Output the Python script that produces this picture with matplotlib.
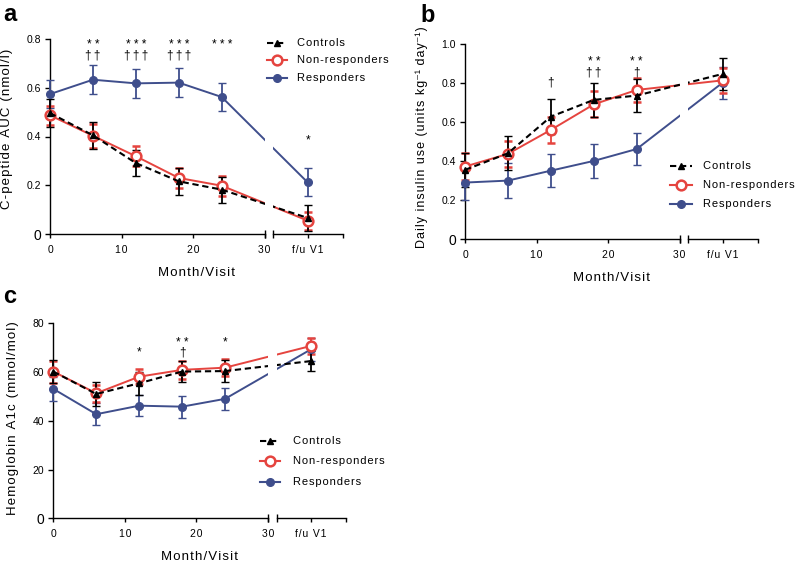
import matplotlib.pyplot as plt
from matplotlib.lines import Line2D

plt.rcParams['font.family'] = ['Liberation Sans', 'DejaVu Sans']

BLUE = '#3F4E8C'
RED = '#E5443F'

# visit months, f/u V1 is drawn after the axis break
visits = [0, 6, 12, 18, 24]
FU = 36
groups = ['Controls', 'Non-responders', 'Responders']

# a: C-peptide AUC (nmol/l), mean and SEM
cpep_ctrl = [0.496, 0.405, 0.291, 0.216, 0.182, 0.066]
cpep_ctrl_err = [0.056, 0.056, 0.054, 0.054, 0.053, 0.053]
cpep_nonr = [0.487, 0.403, 0.319, 0.230, 0.198, 0.055]
cpep_nonr_err = [0.040, 0.050, 0.040, 0.042, 0.041, 0.037]
cpep_resp = [0.574, 0.633, 0.618, 0.621, 0.562, 0.212]
cpep_resp_err = [0.059, 0.059, 0.058, 0.058, 0.059, 0.058]

# b: daily insulin use (units/kg/day)
ins_ctrl = [0.356, 0.441, 0.629, 0.715, 0.737, 0.848]
ins_ctrl_err = [0.087, 0.087, 0.088, 0.087, 0.085, 0.080]
ins_nonr = [0.373, 0.438, 0.561, 0.692, 0.766, 0.815]
ins_nonr_err = [0.068, 0.066, 0.067, 0.066, 0.063, 0.063]
ins_resp = [0.291, 0.301, 0.352, 0.402, 0.463, 0.803]
ins_resp_err = [0.089, 0.088, 0.086, 0.086, 0.084, 0.083]

# c: HbA1c (mmol/mol)
hba_ctrl = [60.2, 51.0, 55.4, 60.2, 60.4, 64.5]
hba_ctrl_err = [4.6, 5.0, 4.8, 4.4, 4.6, 4.2]
hba_nonr = [60.2, 51.3, 58.1, 60.9, 61.8, 70.7]
hba_nonr_err = [4.5, 3.4, 3.0, 3.6, 3.5, 3.2]
hba_resp = [53.1, 42.7, 46.2, 45.8, 49.0, 69.3]
hba_resp_err = [4.8, 4.6, 4.3, 4.5, 4.5, 4.8]

# significance marks: (x, y of last row baseline, stars, daggers)
cpep_marks = [(6, 0.722, '**', '††'), (12, 0.722, '***', '†††'), (18, 0.722, '***', '†††'),
              (24, 0.765, '***', ''), (FU, 0.37, '*', '')]
ins_marks = [(12, 0.79, '', '†'), (18, 0.842, '**', '††'), (24, 0.842, '**', '†')]
hba_marks = [(12, 66.8, '*', ''), (18, 66.8, '**', '†'), (24, 70.8, '*', '')]


def sp(s):
    return '\u200a'.join(s)


fig = plt.figure(figsize=(8, 5.66), dpi=100)
W, H = 800, 566


def fig_xy(px, py):
    return px / W, 1 - py / H


def draw_panel(rect, ctrl, ctrl_err, nonr, nonr_err, resp, resp_err,
               yticks, ylabels, ylabel, ylab_pos, marks, ylab_size=9.5):
    ax = fig.add_axes(rect)
    x = visits + [FU]
    for yv, ye, col, mk, mfc, ls, lw, ms in [
            (resp, resp_err, BLUE, 'o', BLUE, '-', 1.4, 5.5),
            (nonr, nonr_err, RED, 'o', 'white', '-', 1.4, 7),
            (ctrl, ctrl_err, 'black', '^', 'black', '--', 1.5, 4.5)]:
        eb = ax.errorbar(x, yv, yerr=ye, color=col, marker=mk, ms=ms, mfc=mfc,
                         mec=col, mew=1.8 if mfc == 'white' else 1.0, ls=ls, lw=lw,
                         capsize=2.7, capthick=1.3, elinewidth=1.3, zorder=3)
        if ls == '--':
            eb[0].set_dashes((3, 1.8))
        for art in eb.get_children():
            art.set_clip_on(False)
    # gap where lines cross the axis break
    ax.axvspan(30.0, 31.2, color='white', lw=0, zorder=4.5)

    ax.set_xlim(0, 40.95)
    ax.set_ylim(0, yticks[-1])
    for s in ['top', 'right', 'bottom']:
        ax.spines[s].set_visible(False)
    ax.spines['left'].set_linewidth(1.0)
    tr = ax.get_xaxis_transform()
    ax.plot([0, 30], [0, 0], color='black', lw=1.0, transform=tr, clip_on=False, zorder=6)
    ax.plot([31.2, 40.9], [0, 0], color='black', lw=1.0, transform=tr, clip_on=False, zorder=6)
    ax.plot([30, 31.2], [0, 0], ls='none', marker='|', ms=5.5, mew=1.0, color='black',
            transform=tr, clip_on=False, zorder=6)

    ax.set_xticks([0, 10, 20, 30, FU, 40.9])
    ax.set_xticklabels([sp(t) for t in ['0', '10', '20', '30', 'f/u V1']] + [''])
    ax.set_yticks(yticks)
    ax.set_yticklabels(ylabels)
    ax.tick_params(axis='x', direction='out', length=3, width=1.0, pad=5, labelsize=7.5)
    ax.tick_params(axis='y', direction='out', length=3.5, width=1.0, pad=3, labelsize=7.5)
    ax.get_yticklabels()[0].set_fontsize(10)

    ax.set_xlabel(sp('Month/Visit'), fontsize=9.5)
    ax.xaxis.set_label_coords(0.5, -0.17)
    ax.set_ylabel(ylabel, fontsize=ylab_size)
    ax.yaxis.set_label_coords(*ylab_pos)

    for mx, my, stars, daggers in marks:
        rows = [r for r in [' '.join(stars), '\u2009'.join(daggers)] if r]
        ax.text(mx, my, '\n'.join(rows), ha='center', va='baseline', ma='center',
                fontsize=8.5, linespacing=0.75, clip_on=False)
    return ax


def draw_legend(hx0, hx1, tx, rows_y):
    styles = [('black', '^', 'black', '--', 4.5),
              (RED, 'o', 'white', '-', 7),
              (BLUE, 'o', BLUE, '-', 5.5)]
    for (col, mk, mfc, ls, ms), ry, name in zip(styles, rows_y, groups):
        x0, y0 = fig_xy(hx0, ry)
        x1, _ = fig_xy(hx1, ry)
        ln = Line2D([x0, (x0 + x1) / 2, x1], [y0, y0, y0], color=col, ls=ls, lw=1.5,
                    marker=mk, ms=ms, mfc=mfc, mec=col, mew=1.8 if mfc == 'white' else 1.0,
                    markevery=[1], transform=fig.transFigure)
        if ls == '--':
            ln.set_dashes((3, 1.8))
        fig.add_artist(ln)
        tx_, ty_ = fig_xy(tx, ry)
        fig.text(tx_, ty_, sp(name), fontsize=8, va='center', ha='left')


aw, ah = 293 / W, 195 / H

draw_panel([50 / W, 1 - 234 / H, aw, ah], cpep_ctrl, cpep_ctrl_err, cpep_nonr, cpep_nonr_err,
           cpep_resp, cpep_resp_err, [0, 0.2, 0.4, 0.6, 0.8],
           ['0', '0.2', '0.4', '0.6', '0.8'], sp('C-peptide AUC (nmol/l)'), (-0.126, 0.54),
           cpep_marks)
draw_panel([465 / W, 1 - 239.3 / H, aw, ah], ins_ctrl, ins_ctrl_err, ins_nonr, ins_nonr_err,
           ins_resp, ins_resp_err, [0, 0.2, 0.4, 0.6, 0.8, 1.0],
           ['0', '0.2', '0.4', '0.6', '0.8', '1.0'],
           sp('Daily insulin use (units kg') + '⁻¹' + sp(' day') + '⁻¹' + '\u200a)',
           (-0.126, 0.522), ins_marks, ylab_size=9)
draw_panel([53.3 / W, 1 - 518.3 / H, aw, ah], hba_ctrl, hba_ctrl_err, hba_nonr, hba_nonr_err,
           hba_resp, hba_resp_err, [0, 20, 40, 60, 80],
           ['0', '20', '40', '60', '80'], sp('Hemoglobin A1c (mmol/mol)'), (-0.117, 0.514),
           hba_marks)

draw_legend(267, 287, 297, [43, 60.3, 78.3])
draw_legend(670, 692, 703, [165.7, 184.5, 204])
draw_legend(260, 280, 293, [440.7, 461, 481.7])

fig.text(3 / W, 1 - 21 / H, 'a', fontsize=17, fontweight='bold', va='baseline')
fig.text(420 / W, 1 - 21.7 / H, 'b', fontsize=17, fontweight='bold', va='baseline')
fig.text(3 / W, 1 - 303.3 / H, 'c', fontsize=17, fontweight='bold', va='baseline')

fig.savefig('out.png', dpi=100)
